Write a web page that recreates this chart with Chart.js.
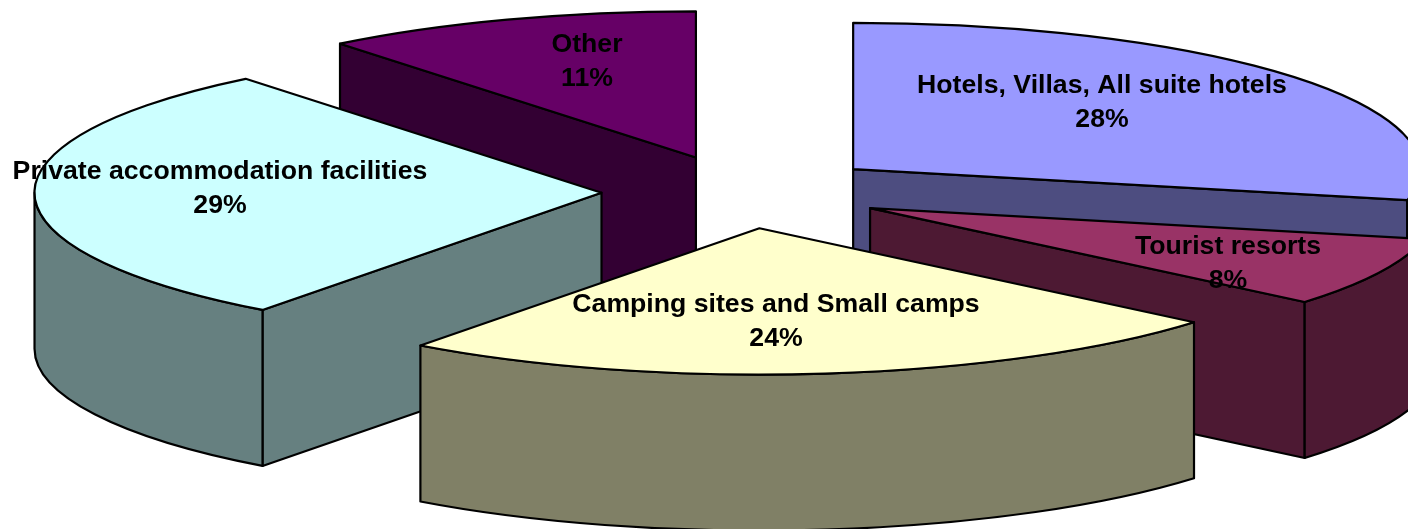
<!DOCTYPE html>
<html>
<head>
<meta charset="utf-8">
<script src="https://cdn.jsdelivr.net/npm/chart.js@4"></script>
<style>
    html, body { margin: 0; padding: 0; background: #fff; overflow: hidden; }
    canvas { display: block; }
</style>
</head>
<body>
<canvas id="pie3d" width="1408" height="529"></canvas>
<script>
var categories = [
    "Hotels, Villas, All suite hotels",
    "Tourist resorts",
    "Camping sites and Small camps",
    "Private accommodation facilities",
    "Other"
];
var shares = [28.4, 7.7, 24.1, 29, 10.8];

var topColors = ["#9999FF", "#993366", "#FFFFCC", "#CCFFFF", "#660066"];
var wallColors = ["#4D4D80", "#4D1933", "#808066", "#668080", "#330033"];

// the fake 3D look: pie is flattened and pushed down, back slices painted first
var tilt = 0.258;
var depth = 156;
var paintOrder = [4, 0, 3, 1, 2];
var labelCenters = [[1102, 86], [1228, 247], [776, 305], [220, 172], [587, 45]];

function paintFace(ctx, fill, buildPath) {
    ctx.beginPath();
    buildPath();
    ctx.closePath();
    ctx.fillStyle = fill;
    ctx.fill();
    ctx.stroke();
}

function drawSlice(ctx, arc, index) {
    var start = arc.startAngle;
    var end = arc.endAngle;
    var mid = (start + end) / 2;
    var r = arc.outerRadius;
    // explode along the middle of the slice
    var cx = arc.x + Math.cos(mid) * arc.options.offset;
    var cy = arc.y + Math.sin(mid) * arc.options.offset * tilt;

    function radialWall(angle) {
        paintFace(ctx, wallColors[index], function() {
            ctx.moveTo(cx, cy);
            ctx.lineTo(cx + r * Math.cos(angle), cy + r * tilt * Math.sin(angle));
            ctx.lineTo(cx + r * Math.cos(angle), cy + r * tilt * Math.sin(angle) + depth);
            ctx.lineTo(cx, cy + depth);
        });
    }

    // only the walls facing the viewer
    if (Math.cos(start) < -1e-6) radialWall(start);
    if (Math.cos(end) > 1e-6) radialWall(end);

    var from = Math.max(start, 0);
    var to = Math.min(end, Math.PI);
    if (from < to) {
        paintFace(ctx, wallColors[index], function() {
            ctx.ellipse(cx, cy, r, r * tilt, 0, from, to);
            ctx.ellipse(cx, cy + depth, r, r * tilt, 0, to, from, true);
        });
    }

    paintFace(ctx, topColors[index], function() {
        ctx.moveTo(cx, cy);
        ctx.ellipse(cx, cy, r, r * tilt, 0, start, end);
    });
}

var pie3dPlugin = {
    id: 'pie3d',
    beforeDatasetsDraw: function(chart) {
        var ctx = chart.ctx;
        var arcs = chart.getDatasetMeta(0).data;
        ctx.save();
        ctx.strokeStyle = "#000000";
        ctx.lineWidth = 2.2;
        ctx.lineJoin = 'round';
        paintOrder.forEach(function(i) {
            drawSlice(ctx, arcs[i], i);
        });
        ctx.fillStyle = "#000000";
        ctx.font = "bold 26.67px 'Liberation Sans', Arial, sans-serif";
        ctx.textAlign = 'center';
        ctx.textBaseline = 'middle';
        categories.forEach(function(name, i) {
            ctx.fillText(name, labelCenters[i][0], labelCenters[i][1]);
            ctx.fillText(Math.round(shares[i]) + "%", labelCenters[i][0], labelCenters[i][1] + 34);
        });
        ctx.restore();
        return false;
    }
};

var ctx = document.getElementById("pie3d").getContext("2d");
var chart = new Chart(ctx, {
    type: 'pie',
    data: {
        labels: categories,
        datasets: [{
            data: shares,
            backgroundColor: topColors,
            borderWidth: 0,
            offset: 141.5
        }]
    },
    options: {
        responsive: false,
        animation: false,
        events: [],
        radius: 567,
        layout: { padding: { left: 78, bottom: 145 } },
        plugins: {
            legend: { display: false },
            tooltip: { enabled: false }
        }
    },
    plugins: [pie3dPlugin]
});
</script>
</body>
</html>
